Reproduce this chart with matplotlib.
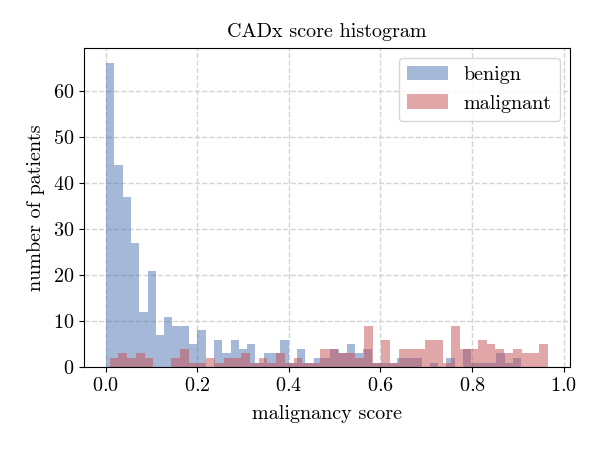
import numpy as np
import matplotlib
matplotlib.use("Agg")
import matplotlib.pyplot as plt

# bin edges (50 bins each)
benign_range = (0.0011, 0.907)
malignant_range = (0.0088, 0.9655)
n_bins = 50

benign_counts = [66, 44, 37, 27, 12, 21, 7, 11, 9, 9, 5, 8,
                 0, 6, 3, 6, 4, 5, 1, 3, 3, 6,
                 1, 4, 1, 2, 2, 4, 3, 5, 3, 4,
                 1, 1, 1, 2, 2, 2, 0, 1, 0, 2,
                 0, 4, 1, 1, 1, 3, 1, 2]
malignant_counts = [2, 3, 2, 3, 2, 0, 0, 2, 4, 1,
                    1, 2, 1, 2, 2, 3, 1, 2, 1, 3,
                    1, 2, 1, 1, 4, 4, 3, 3, 2, 9,
                    1, 6, 1, 4, 4, 4, 6, 6, 1, 9,
                    4, 4, 6, 5, 4, 3, 4, 3, 3, 5]

plt.rcParams['font.family'] = 'serif'
plt.rcParams['font.serif'] = ['cmr10']
plt.rcParams['mathtext.fontset'] = 'cm'
plt.rcParams['axes.formatter.use_mathtext'] = True
plt.rcParams['font.size'] = 14.5

fig = plt.figure(figsize=(6, 4.5), dpi=100)
ax = fig.add_axes([0.14, 0.184, 0.81, 0.709])

b_edges = np.linspace(*benign_range, n_bins + 1)
m_edges = np.linspace(*malignant_range, n_bins + 1)
ax.hist(b_edges[:-1], bins=b_edges, weights=benign_counts,
        color='#4C72B0', alpha=0.5, label='benign')
ax.hist(m_edges[:-1], bins=m_edges, weights=malignant_counts,
        color='#C44E52', alpha=0.5, label='malignant')

ax.set_axisbelow(True)
ax.grid(True, linestyle='--', color='#d3d3d3', linewidth=1)
ax.set_xticks([0.0, 0.2, 0.4, 0.6, 0.8, 1.0])
ax.set_yticks([0, 10, 20, 30, 40, 50, 60])
ax.set_xlabel('malignancy score', labelpad=7)
ax.set_ylabel('number of patients', labelpad=6)
ax.set_title('CADx score histogram', fontsize=14.5, pad=8)
ax.legend(loc='upper right', fontsize=14.5)

fig.savefig('out.png', dpi=100)
